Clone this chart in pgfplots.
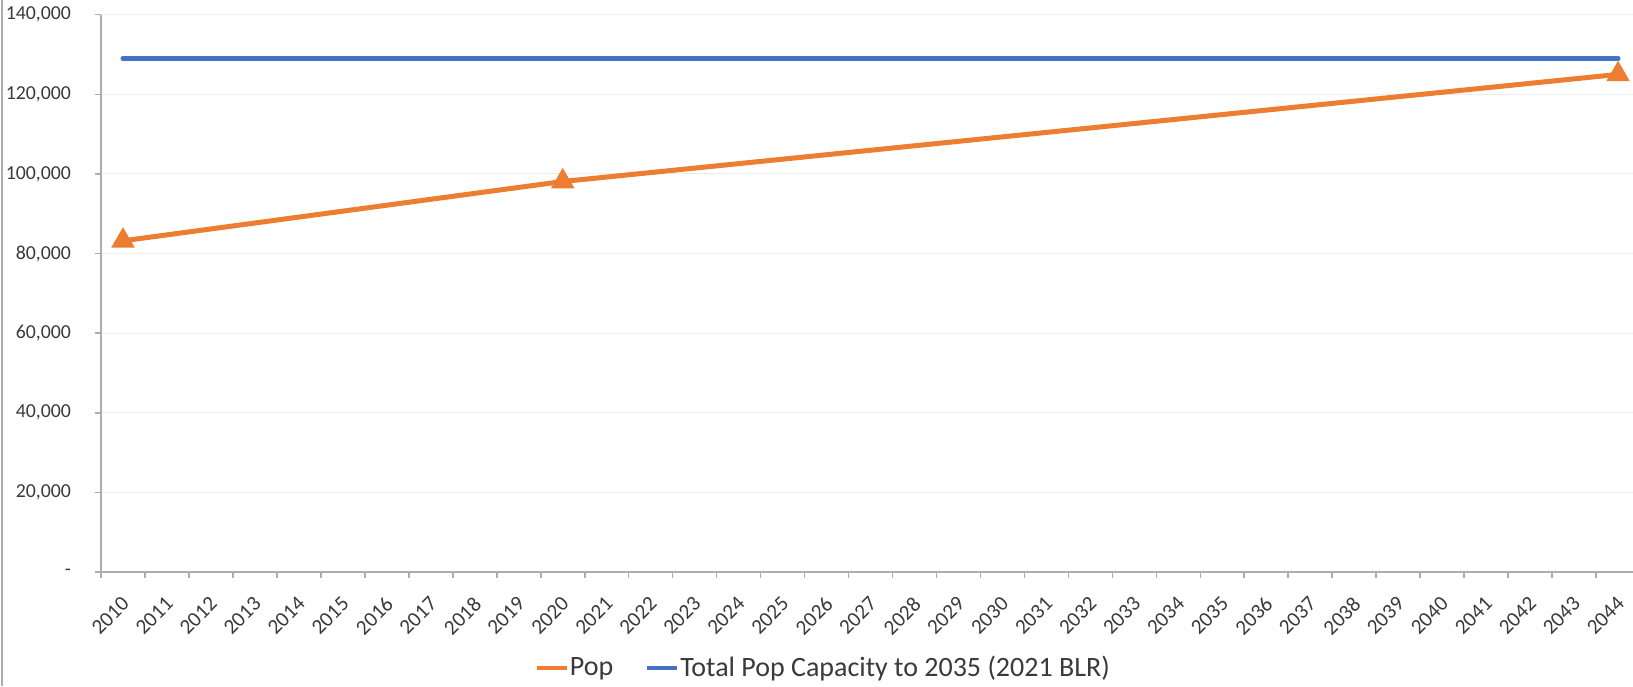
\documentclass[border=0pt]{standalone}
\usepackage{pgfplots}
\pgfplotsset{compat=1.18}
\usepackage{fontspec}
\setmainfont{Carlito}
\definecolor{cblue}{HTML}{4472C4}
\definecolor{corange}{HTML}{ED7D31}
\definecolor{tickgray}{HTML}{3A3A3A}
\definecolor{spinegray}{HTML}{ADADAD}
\definecolor{gridgray}{HTML}{EDEDED}
\begin{document}
\begin{tikzpicture}
\useasboundingbox (-50.5pt,-57pt) rectangle (766pt,286pt);
\draw[spinegray, line width=0.8pt] (-49.5pt,-57pt) -- (-49.5pt,286pt);
\begin{axis}[
  at={(0,0)}, anchor=south west,
  scale only axis, width=766pt, height=278.65pt,
  xmin=-0.5, xmax=34.34, ymin=0, ymax=140000,
  clip=false,
  axis x line*=bottom, axis y line*=left,
  axis line style={spinegray, line width=1pt},
  tick align=outside,
  tick style={spinegray, line width=0.8pt},
  major tick length=3pt,
  xtick={-0.5,0.5,...,33.5},
  xticklabels={},
  extra x ticks={0,1,2,3,4,5,6,7,8,9,10,11,12,13,14,15,16,17,18,19,20,21,22,23,24,25,26,27,28,29,30,31,32,33,34},
  extra x tick labels={2010,2011,2012,2013,2014,2015,2016,2017,2018,2019,2020,2021,2022,2023,2024,2025,2026,2027,2028,2029,2030,2031,2032,2033,2034,2035,2036,2037,2038,2039,2040,2041,2042,2043,2044},
  extra x tick style={major tick length=0pt, grid=none,
    xticklabel style={xshift=-1.2pt, yshift=-11.5pt, rotate=45, anchor=north east,
      font=\fontsize{10.6}{12}\selectfont, text=tickgray, inner sep=0pt}},
  ytick={0,20000,40000,60000,80000,100000,120000,140000},
  yticklabels={{-\hspace{4.5pt}},{20,000},{40,000},{60,000},{80,000},{100,000},{120,000},{140,000}},
  yticklabel style={xshift=-8.5pt, font=\fontsize{9.9}{12}\selectfont, text=tickgray},
  ymajorgrids,
  grid style={gridgray, line width=0.5pt},
  legend style={at={(0.4712,-0.1723)}, anchor=center, draw=none, fill=none,
    font=\fontsize{14}{16}\selectfont, text=tickgray,
    nodes={inner xsep=0.5pt},
    /tikz/every even column/.append style={column sep=15.5pt}},
  legend columns=-1,
  legend image code/.code={\draw[#1, mark=none, line cap=butt, line width=2pt] (0pt,0pt) -- (15pt,0pt);},
]
\addplot[corange, line width=2.5pt, mark=triangle*, mark size=4.3pt, mark options={solid}]
  coordinates {(0,83200) (10,98100) (34,125000)};
\addlegendentry{Pop}
\addplot[cblue, line width=2.5pt, line cap=round, mark=none]
  coordinates {(0,129000) (34,129000)};
\addlegendentry{Total Pop Capacity to 2035 (2021 BLR)}
\end{axis}
\end{tikzpicture}
\end{document}
